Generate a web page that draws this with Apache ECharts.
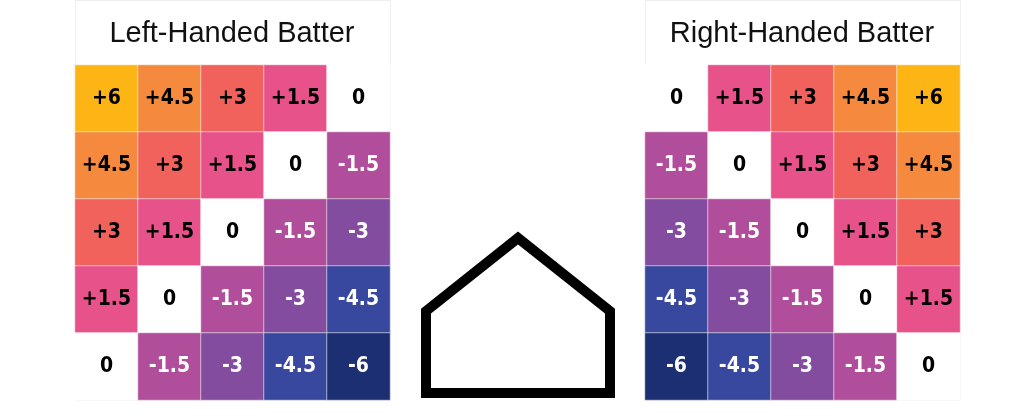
<!DOCTYPE html>
<html>
<head>
<meta charset="utf-8">
<script src="https://cdn.jsdelivr.net/npm/echarts@6/dist/echarts.min.js"></script>
<style>
  html, body { margin: 0; padding: 0; background: #fff; }
  #chart { width: 1023px; height: 418px; }
</style>
</head>
<body>
<div id="chart"></div>
<script>
// zone columns and rows (top -> bottom)
const cols = ['c1', 'c2', 'c3', 'c4', 'c5']
const rows = ['r1', 'r2', 'r3', 'r4', 'r5']

const lhbRows = [
  [6, 4.5, 3, 1.5, 0],
  [4.5, 3, 1.5, 0, -1.5],
  [3, 1.5, 0, -1.5, -3],
  [1.5, 0, -1.5, -3, -4.5],
  [0, -1.5, -3, -4.5, -6]
]
const rhbRows = [
  [0, 1.5, 3, 4.5, 6],
  [-1.5, 0, 1.5, 3, 4.5],
  [-3, -1.5, 0, 1.5, 3],
  [-4.5, -3, -1.5, 0, 1.5],
  [-6, -4.5, -3, -1.5, 0]
]

const levels = [6, 4.5, 3, 1.5, 0, -1.5, -3, -4.5, -6]
const levelColors = ['#fdb515', '#f58a3f', '#f0625b', '#e8528b', '#ffffff', '#b04e9c', '#834c9e', '#38489e', '#1b2f72']

// home plate outline
const plateX = [8.5, 17, 17, 8.5, 0, 0, 8.5]
const plateY = [0, 0, 7.6, 14.4, 7.6, 0, 0]

const toCells = grid => {
  const out = []
  grid.forEach((row, r) => {
    row.forEach((v, c) => {
      out.push({
        value: [c, r, v],
        label: { color: v < 0 ? '#ffffff' : '#000000' }
      })
    })
  })
  return out
}

const chart = echarts.init(document.getElementById('chart'))

const hiddenCat = (data, idx, inverse) => ({
  type: 'category',
  data,
  gridIndex: idx,
  inverse: !!inverse,
  show: false,
  splitArea: { show: false }
})

const heatSeries = (grid, idx) => ({
  type: 'heatmap',
  xAxisIndex: idx,
  yAxisIndex: idx,
  data: toCells(grid),
  itemStyle: { borderColor: 'rgba(255,255,255,0.55)', borderWidth: 1 },
  label: {
    show: true,
    fontFamily: 'DejaVu Sans Condensed',
    fontWeight: 'bold',
    fontSize: 21,
    formatter: p => {
      const v = p.value[2]
      return v > 0 ? '+' + v : String(v)
    }
  },
  emphasis: { disabled: true }
})

const titleStyle = { fontFamily: 'Liberation Sans', fontWeight: 'normal', fontSize: 29, color: '#111' }

const option = {
  animation: false,
  backgroundColor: '#fff',
  title: [
    { text: 'Left-Handed Batter', left: 227, top: 14, textAlign: 'center', textStyle: titleStyle },
    { text: 'Right-Handed Batter', left: 797, top: 14, textAlign: 'center', textStyle: titleStyle }
  ],
  graphic: [
    { type: 'rect', shape: { x: 75.5, y: 0.5, width: 315, height: 400 }, style: { fill: 'none', stroke: '#eeeeee', lineWidth: 1 }, z: -1 },
    { type: 'rect', shape: { x: 645.5, y: 0.5, width: 315, height: 400 }, style: { fill: 'none', stroke: '#eeeeee', lineWidth: 1 }, z: -1 }
  ],
  visualMap: {
    type: 'piecewise',
    show: false,
    dimension: 2,
    seriesIndex: [0, 1],
    pieces: levels.map((v, i) => ({ value: v, color: levelColors[i] }))
  },
  grid: [
    { left: 75, top: 65, width: 315, height: 335 },
    { left: 645, top: 65, width: 315, height: 335 },
    { left: 426, top: 238, width: 184, height: 155 }
  ],
  xAxis: [
    hiddenCat(cols, 0),
    hiddenCat(cols, 1),
    { type: 'value', gridIndex: 2, min: 0, max: 17, show: false }
  ],
  yAxis: [
    hiddenCat(rows, 0, true),
    hiddenCat(rows, 1, true),
    { type: 'value', gridIndex: 2, min: 0, max: 14.4, show: false }
  ],
  series: [
    heatSeries(lhbRows, 0),
    heatSeries(rhbRows, 1),
    {
      type: 'line',
      xAxisIndex: 2,
      yAxisIndex: 2,
      data: plateX.map((x, i) => [x, plateY[i]]),
      symbol: 'none',
      clip: false,
      lineStyle: { color: '#000', width: 10, join: 'miter', cap: 'butt' },
      silent: true
    }
  ]
}

chart.setOption(option)
window.addEventListener('resize', () => chart.resize())
</script>
</body>
</html>
